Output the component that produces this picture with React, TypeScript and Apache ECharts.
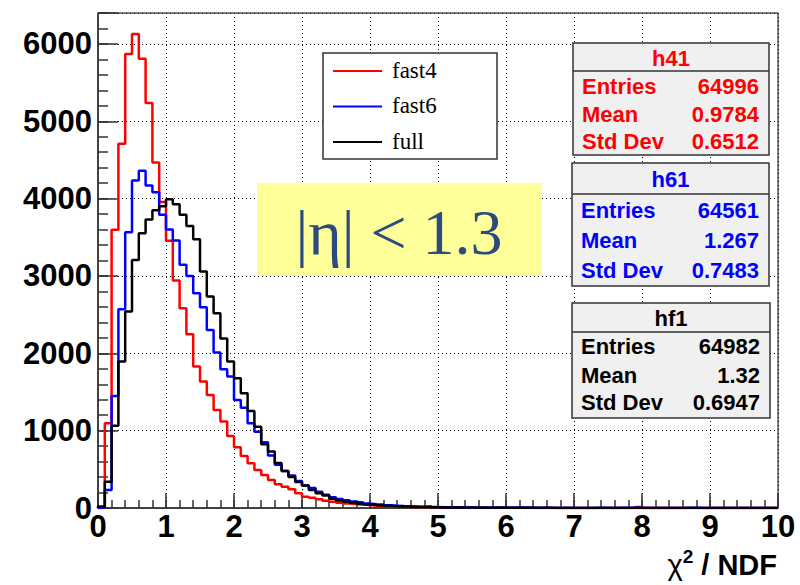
import React, { useEffect, useRef } from "react";
import * as echarts from "echarts";

// ---- data (counts per bin of width 0.1 on 0..10) ----
const binWidth = 0.1;
const xMin = 0;
const xMax = 10;
const yMax = 6400;
const xTickValues = [0, 1, 2, 3, 4, 5, 6, 7, 8, 9, 10];
const yTickValues = [0, 1000, 2000, 3000, 4000, 5000, 6000];

const fast4Counts = [
  5, 1095, 3596, 4709, 5869, 6128, 5808, 5235, 4467, 3955,
  3454, 2941, 2583, 2247, 1828, 1634, 1462, 1268, 1117, 931,
  785, 673, 578, 492, 427, 362, 306, 276, 241, 190,
  147, 134, 112, 95, 82, 69, 58, 50, 45, 38,
  30, 26, 22, 18, 20, 14, 12, 10, 9, 8,
  6, 6, 5, 4, 4, 3, 3, 2, 3, 2,
  2, 1, 2, 1, 1, 2, 1, 1, 0, 1,
  1, 0, 1, 0, 1, 0, 0, 1, 0, 12,
  0, 1, 0, 0, 1, 0, 0, 0, 1, 0,
  0, 0, 1, 0, 0, 0, 0, 1, 0, 0,
];

const fast6Counts = [
  5, 233, 1449, 2570, 3566, 4234, 4360, 4170, 4084, 3790,
  3600, 3458, 3144, 3001, 2777, 2596, 2303, 2009, 1794, 1699,
  1397, 1296, 1096, 985, 850, 680, 560, 480, 420, 350,
  290, 260, 210, 170, 140, 115, 100, 85, 75, 58,
  50, 45, 35, 30, 25, 22, 18, 15, 22, 12,
  10, 9, 8, 7, 6, 5, 5, 4, 6, 3,
  3, 5, 5, 4, 2, 2, 2, 1, 4, 1,
  1, 1, 1, 3, 2, 1, 4, 4, 3, 2,
  1, 1, 0, 1, 1, 0, 2, 3, 1, 0,
  0, 1, 0, 0, 1, 0, 0, 0, 1, 0,
];

const fullCounts = [
  20, 340, 1065, 1893, 2540, 3205, 3553, 3730, 3850, 3900,
  3993, 3928, 3790, 3645, 3476, 3057, 2734, 2518, 2190, 1893,
  1677, 1485, 1255, 1052, 825, 729, 582, 480, 400, 335,
  290, 233, 190, 162, 120, 98, 82, 68, 55, 45,
  38, 32, 28, 22, 19, 16, 14, 12, 10, 9,
  8, 7, 6, 5, 5, 4, 4, 3, 3, 3,
  2, 2, 2, 2, 1, 2, 1, 1, 1, 1,
  1, 1, 1, 0, 1, 1, 0, 1, 1, 1,
  0, 1, 0, 1, 0, 0, 1, 0, 0, 1,
  0, 0, 1, 0, 0, 0, 1, 0, 0, 0,
];

const seriesNames = ["fast4", "fast6", "full"];
const seriesColors = ["#ff0000", "#0000ff", "#000000"];
const statsTitles = ["h41", "h61", "hf1"];
const statsLabels = ["Entries", "Mean", "Std Dev"];
const statsValues = [
  ["64996", "0.9784", "0.6512"],
  ["64561", "1.267", "0.7483"],
  ["64982", "1.32", "0.6947"],
];
const etaText = "|η| < 1.3";

function toSteps(counts: number[]): number[][] {
  const pts: number[][] = [[xMin, 0]];
  counts.forEach((c, i) => {
    pts.push([Math.round(i * binWidth * 1000) / 1000, c]);
  });
  pts.push([xMax, counts[counts.length - 1]]);
  return pts;
}

const SANS = "'Liberation Sans', Arial, Helvetica, sans-serif";
const SERIF = "'Liberation Serif', 'Times New Roman', serif";

export default function App() {
  const ref = useRef<HTMLDivElement>(null);

  useEffect(() => {
    if (!ref.current) return;
    const chart = echarts.init(ref.current, undefined, { renderer: "svg" });

    const countsList = [fast4Counts, fast6Counts, fullCounts];

    const boxes = [
      { x: 573, y: 43, w: 196, h: 112, head: 28, rows: [86.5, 114, 141.5] },
      { x: 572, y: 163, w: 197, h: 123, head: 31, rows: [210, 240.5, 270] },
      { x: 572, y: 303, w: 198, h: 115, head: 29, rows: [346.5, 375, 402] },
    ];

    const graphics: any[] = [];
    boxes.forEach((b, k) => {
      const col = seriesColors[k];
      graphics.push({
        type: "rect",
        z: 100,
        shape: { x: b.x, y: b.y, width: b.w, height: b.h },
        style: { fill: "#f0f0f0", stroke: "#333", lineWidth: 1.5 },
      });
      graphics.push({
        type: "line",
        z: 101,
        shape: { x1: b.x, y1: b.y + b.head, x2: b.x + b.w, y2: b.y + b.head },
        style: { stroke: "#333", lineWidth: 1.5 },
      });
      graphics.push({
        type: "text",
        z: 102,
        x: b.x + b.w / 2,
        y: b.y + b.head / 2 + 1,
        style: {
          text: statsTitles[k],
          fill: col,
          font: `bold 22px ${SANS}`,
          align: "center",
          verticalAlign: "middle",
        },
      });
      statsLabels.forEach((lab, r) => {
        graphics.push({
          type: "text",
          z: 102,
          x: b.x + 9,
          y: b.rows[r],
          style: {
            text: lab,
            fill: col,
            font: `bold 22px ${SANS}`,
            align: "left",
            verticalAlign: "middle",
          },
        });
        graphics.push({
          type: "text",
          z: 102,
          x: b.x + b.w - 10,
          y: b.rows[r],
          style: {
            text: statsValues[k][r],
            fill: col,
            font: `bold 22px ${SANS}`,
            align: "right",
            verticalAlign: "middle",
          },
        });
      });
    });

    // legend
    graphics.push({
      type: "rect",
      z: 100,
      shape: { x: 323, y: 53, width: 174, height: 106 },
      style: { fill: "#ffffff", stroke: "#333", lineWidth: 1.5 },
    });
    const legendY = [71, 106.5, 142];
    seriesNames.forEach((n, k) => {
      graphics.push({
        type: "line",
        z: 101,
        shape: { x1: 333, y1: legendY[k], x2: 382, y2: legendY[k] },
        style: { stroke: seriesColors[k], lineWidth: 2 },
      });
      graphics.push({
        type: "text",
        z: 102,
        x: 392,
        y: legendY[k] - 1,
        style: {
          text: n,
          fill: "#000",
          font: `23px ${SERIF}`,
          align: "left",
          verticalAlign: "middle",
        },
      });
    });

    // eta box
    graphics.push({
      type: "rect",
      z: 100,
      shape: { x: 257, y: 183, width: 285, height: 93 },
      style: { fill: "#ffff99" },
    });
    graphics.push({
      type: "text",
      z: 102,
      x: 399,
      y: 232,
      style: {
        text: etaText,
        fill: "#2d4b7e",
        font: `64px ${SERIF}`,
        align: "center",
        verticalAlign: "middle",
      },
    });

    // x-axis title
    graphics.push({
      type: "text",
      z: 102,
      x: 777,
      y: 563,
      style: {
        text: "{a|χ}{s|2}{b| / NDF}",
        align: "right",
        verticalAlign: "middle",
        rich: {
          a: { font: `29px ${SANS}`, fill: "#000", lineHeight: 32, verticalAlign: "bottom" },
          s: { font: `bold 19px ${SANS}`, fill: "#000", lineHeight: 30, verticalAlign: "top" },
          b: { font: `bold 29px ${SANS}`, fill: "#000", lineHeight: 32, verticalAlign: "bottom" },
        },
      },
    });

    const option: any = {
      animation: false,
      backgroundColor: "#ffffff",
      grid: {
        left: 98,
        right: 22,
        top: 13,
        bottom: 77,
        show: true,
        borderColor: "#000",
        borderWidth: 1,
        backgroundColor: "transparent",
        outerBoundsMode: "none",
      },
      xAxis: [
        {
          type: "value",
          min: xMin,
          max: xMax,
          interval: 1,
          position: "bottom",
          axisLine: { show: true, onZero: false, lineStyle: { color: "#333", width: 1.5 } },
          axisTick: { show: true, inside: true, length: 15, lineStyle: { color: "#333", width: 1.5 } },
          axisLabel: {
            show: true,
            margin: 3,
            color: "#000",
            fontSize: 31,
            fontWeight: "bold",
            fontFamily: SANS,
            formatter: (v: number) => (xTickValues.includes(v) ? String(v) : ""),
          },
          splitLine: { show: true, lineStyle: { color: "#000", width: 1, type: [1, 3] } },
        },
        {
          type: "value",
          min: xMin,
          max: xMax,
          interval: 0.2,
          position: "bottom",
          axisLine: { show: false, onZero: false },
          axisTick: { show: true, inside: true, length: 8, lineStyle: { color: "#333", width: 1.5 } },
          axisLabel: { show: false },
          splitLine: { show: false },
        },
      ],
      yAxis: [
        {
          type: "value",
          min: 0,
          max: yMax,
          interval: 1000,
          position: "left",
          axisLine: { show: true, onZero: false, lineStyle: { color: "#333", width: 1.5 } },
          axisTick: { show: true, inside: true, length: 20, lineStyle: { color: "#333", width: 1.5 } },
          axisLabel: {
            show: true,
            margin: 6,
            color: "#000",
            fontSize: 31,
            fontWeight: "bold",
            fontFamily: SANS,
            formatter: (v: number) => (yTickValues.includes(v) ? String(v) : ""),
          },
          splitLine: { show: true, lineStyle: { color: "#000", width: 1, type: [1, 3] } },
        },
        {
          type: "value",
          min: 0,
          max: yMax,
          interval: 200,
          position: "left",
          axisLine: { show: false, onZero: false },
          axisTick: { show: true, inside: true, length: 10, lineStyle: { color: "#333", width: 1.5 } },
          axisLabel: { show: false },
          splitLine: { show: false },
        },
      ],
      series: countsList.map((counts, k) => ({
        name: seriesNames[k],
        type: "line",
        xAxisIndex: 0,
        yAxisIndex: 0,
        step: "end",
        showSymbol: false,
        symbol: "none",
        data: toSteps(counts),
        lineStyle: { color: seriesColors[k], width: 2.5 },
        itemStyle: { color: seriesColors[k] },
        z: 3 + k,
      })),
      graphic: graphics,
    };

    chart.setOption(option);
    return () => {
      chart.dispose();
    };
  }, []);

  return (
    <div
      ref={ref}
      style={{ position: "absolute", left: 0, top: 0, width: 800, height: 585 }}
    />
  );
}
